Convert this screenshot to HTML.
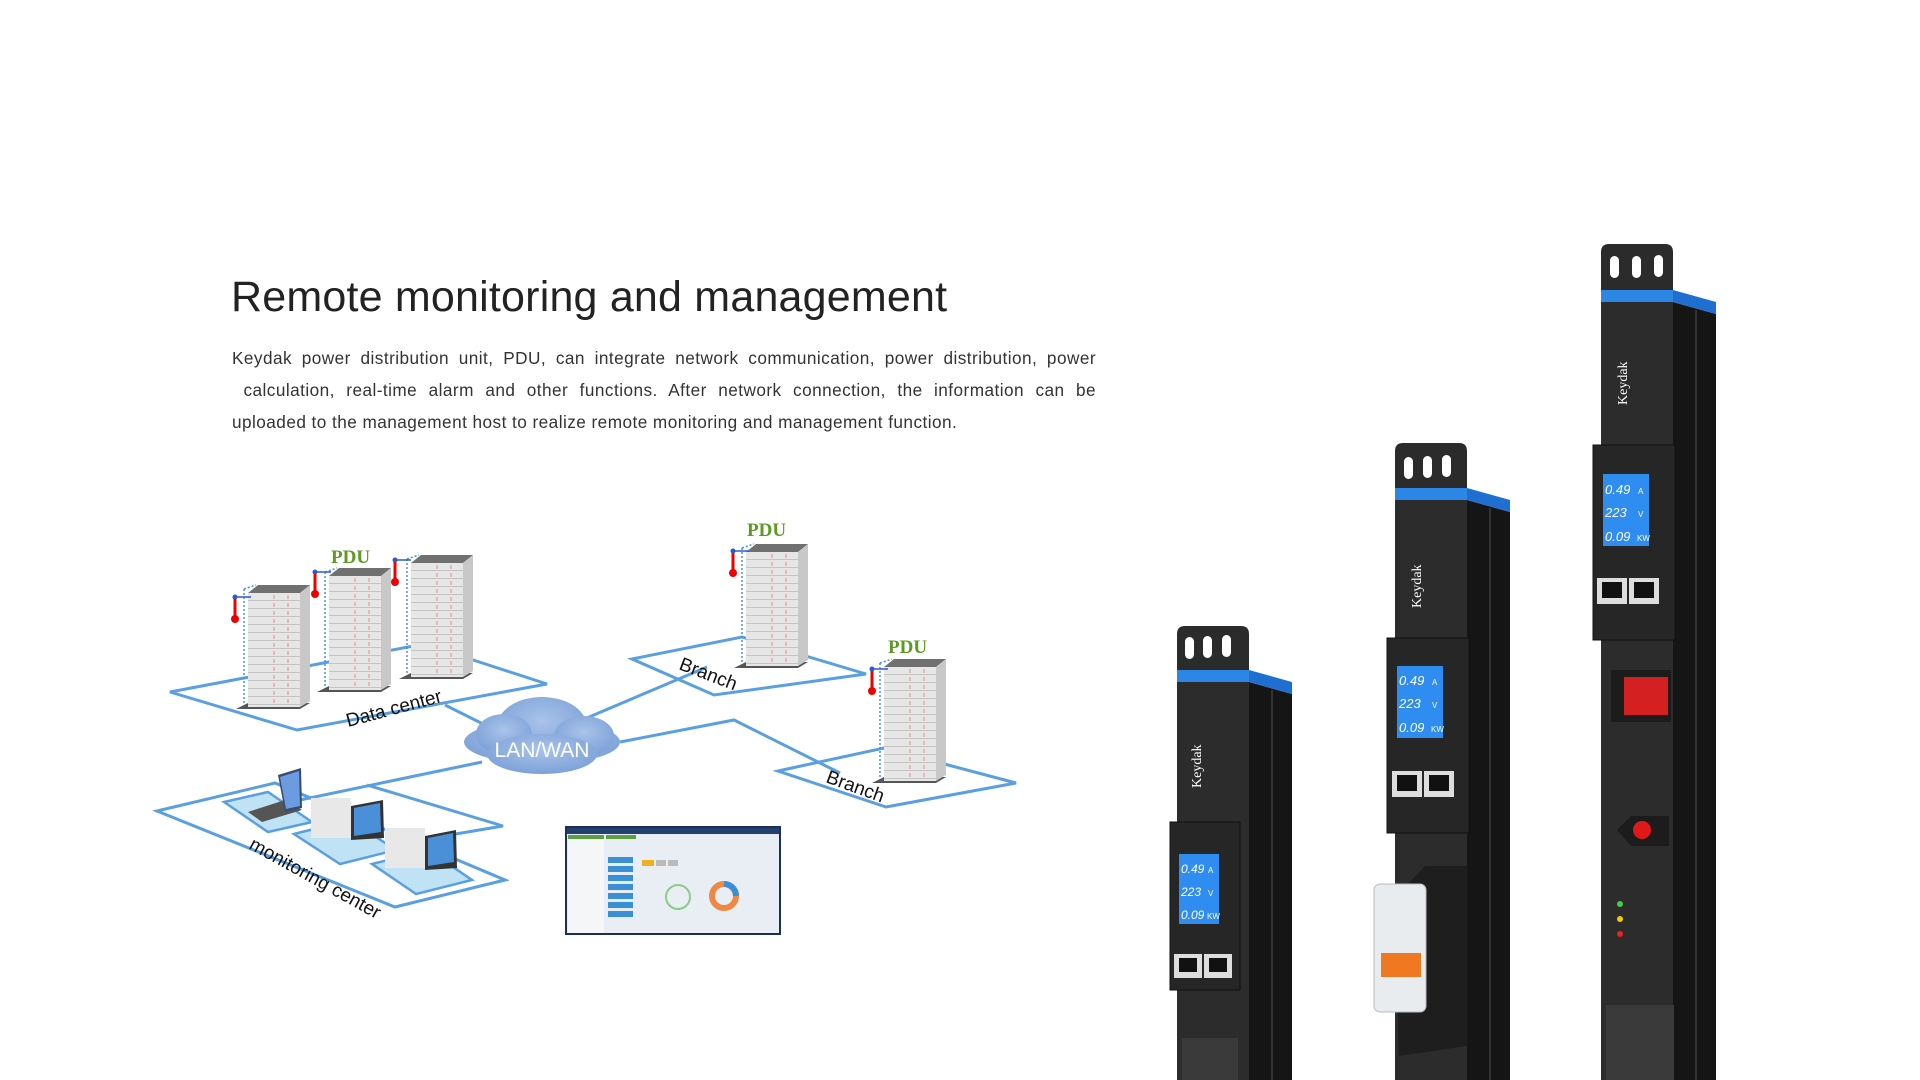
<!DOCTYPE html>
<html><head><meta charset="utf-8"><style>
html,body{margin:0;padding:0;background:#fff;width:1920px;height:1080px;overflow:hidden;font-family:"Liberation Sans",sans-serif}
.t{position:absolute;left:231px;top:273px;font-size:43px;color:#222;letter-spacing:0.2px;white-space:nowrap}
.p{position:absolute;left:232px;top:342px;width:864px;font-size:17.2px;letter-spacing:0.45px;line-height:32px;color:#333}
.p div{text-align:justify;text-align-last:justify;white-space:nowrap;overflow:visible}
.p div.l{text-align-last:left}
svg{position:absolute;left:0;top:0}
</style></head><body>
<div class="t">Remote monitoring and management</div>
<div class="p"><div style="white-space:normal">Keydak power distribution unit, PDU, can integrate network communication, power distribution, power</div><div style="white-space:normal">&nbsp;calculation, real-time alarm and other functions. After network connection, the information can be</div><div class="l">uploaded to the management host to realize remote monitoring and management function.</div></div>
<svg width="1920" height="1080" viewBox="0 0 1920 1080">
<defs>
<pattern id="rk" width="52" height="8" patternUnits="userSpaceOnUse"><rect width="52" height="8" fill="#e6e6e6"/><line x1="0" y1="7.5" x2="52" y2="7.5" stroke="#c4c4c4"/><line x1="26" y1="2" x2="26" y2="6" stroke="#e88"/><line x1="40" y1="2" x2="40" y2="6" stroke="#e88"/></pattern>
<g id="rack">
<polygon points="-12,124 52,124 62,118 0,118" fill="#555"/>
<polygon points="0,8 10,0 62,0 52,8" fill="#707070"/>
<rect x="0" y="8" width="52" height="114" fill="url(#rk)"/>
<polygon points="52,8 62,0 62,116 52,122" fill="#c8c8c8"/>
<line x1="-4" y1="4" x2="-4" y2="118" stroke="#4a90e2" stroke-width="1.5" stroke-dasharray="2,2"/>
<line x1="-4" y1="4" x2="8" y2="0" stroke="#4a90e2" stroke-width="1.5" stroke-dasharray="2,2"/>
</g>
<g id="th"><line x1="0" y1="0" x2="16" y2="0" stroke="#2a5ad0" stroke-width="1.5"/><circle cx="0" cy="0" r="2.5" fill="#2a5ad0"/><line x1="0" y1="2" x2="0" y2="20" stroke="#e00" stroke-width="3"/><circle cx="0" cy="22" r="4" fill="#e00"/></g>
<radialGradient id="cl" cx="50%" cy="40%" r="60%"><stop offset="0" stop-color="#a9c3ea"/><stop offset="1" stop-color="#7da1d8"/></radialGradient>
</defs>
<g fill="none" stroke="#5aa0e0" stroke-width="3">
<polygon points="170,692 424,644 547,684 297,730"/>
<polygon points="632,659 742,637 866,674 714,695"/>
<polygon points="778,771 884,748 1016,783 886,807"/>
<polygon points="157,811 275,783 505,880 395,907"/>
<polyline points="367,785 503,826 420,840"/>
<line x1="445" y1="705" x2="495" y2="730"/>
<line x1="575" y1="723" x2="707" y2="667"/>
<polyline points="620,742 734,720 840,773"/>
<line x1="482" y1="762" x2="300" y2="800"/>
</g>
<g fill="#bfe3f5" stroke="#5aa0e0" stroke-width="2.5">
<polygon points="224,802 268,792 312,822 268,832"/>
<polygon points="294,834 350,820 396,850 340,864"/>
<polygon points="372,864 428,850 472,880 416,894"/>
</g>
<g>
<polygon points="248,812 285,800 302,810 262,822" fill="#555"/>
<polygon points="278,775 301,768 302,808 285,812" fill="#3a4a70"/><polygon points="280,777 299,771 300,806 286,809" fill="#6b9be0"/>
<rect x="311" y="798" width="40" height="40" fill="#e8e8e8"/><polygon points="351,806 383,800 384,838 351,840" fill="#333"/><polygon points="354,808 380,803 381,832 354,836" fill="#4a90d8"/>
<rect x="385" y="828" width="40" height="40" fill="#e8e8e8"/><polygon points="425,836 456,830 457,868 425,870" fill="#333"/><polygon points="428,838 453,833 454,862 428,866" fill="#4a90d8"/>
</g>
<use href="#rack" x="248" y="585"/>
<use href="#rack" x="329" y="568"/>
<use href="#rack" x="411" y="555"/>
<use href="#rack" x="746" y="544"/>
<use href="#rack" x="884" y="659"/>
<use href="#th" x="235" y="597"/>
<use href="#th" x="315" y="572"/>
<use href="#th" x="395" y="560"/>
<use href="#th" x="733" y="551"/>
<use href="#th" x="872" y="669"/>
<g font-family="Liberation Serif,serif" font-weight="bold" font-size="19" fill="#5d9a22">
<text x="331" y="563">PDU</text><text x="747" y="536">PDU</text><text x="888" y="653">PDU</text>
</g>
<g font-size="19" fill="#111">
<text transform="translate(348,727) rotate(-15)">Data center</text>
<text transform="translate(678,669) rotate(21)">Branch</text>
<text transform="translate(825,782) rotate(20)">Branch</text>
<text transform="translate(248,848) rotate(29)">monitoring center</text>
</g>
<g fill="url(#cl)" transform="translate(-6,-8)">
<ellipse cx="548" cy="750" rx="78" ry="22"/><ellipse cx="548" cy="735" rx="45" ry="30"/><ellipse cx="510" cy="742" rx="28" ry="20"/><ellipse cx="590" cy="744" rx="30" ry="20"/><ellipse cx="548" cy="762" rx="55" ry="20"/>
</g>
<text x="542" y="757" text-anchor="middle" font-size="21" fill="#fff">LAN/WAN</text>
<g transform="translate(-6,-8)">
<rect x="572" y="835" width="214" height="107" fill="#e9eef4" stroke="#1c2d5e" stroke-width="2"/>
<rect x="573" y="836" width="212" height="6" fill="#23406e"/>
<rect x="574" y="843" width="36" height="98" fill="#f4f6f8"/>
<rect x="574" y="843" width="36" height="4" fill="#5aa040"/><rect x="612" y="843" width="30" height="4" fill="#5aa040"/>
<g fill="#3a8fd6"><rect x="614" y="865" width="25" height="6"/><rect x="614" y="874" width="25" height="6"/><rect x="614" y="883" width="25" height="6"/><rect x="614" y="892" width="25" height="6"/><rect x="614" y="901" width="25" height="6"/><rect x="614" y="910" width="25" height="6"/><rect x="614" y="919" width="25" height="6"/></g>
<rect x="648" y="868" width="12" height="6" fill="#f0b020"/><rect x="662" y="868" width="10" height="6" fill="#bbb"/><rect x="674" y="868" width="10" height="6" fill="#bbb"/>
<circle cx="684" cy="905" r="12" fill="none" stroke="#8c8" stroke-width="2"/>
<circle cx="730" cy="904" r="12" fill="none" stroke="#e84" stroke-width="6"/><path d="M730 892 a12 12 0 0 1 12 12" fill="none" stroke="#3a8fd6" stroke-width="6"/>
</g>
<g transform="translate(-14,-2)">
<path d="M1191 680 V636 q0-8 8-8 h56 q8 0 8 8 V680Z" fill="#2b2b2b"/>
<rect x="1199" y="639" width="9" height="22" rx="4.5" fill="#fff"/><rect x="1217" y="638" width="9" height="22" rx="4.5" fill="#fff"/><rect x="1236" y="637" width="9" height="22" rx="4.5" fill="#fff"/>
<rect x="1191" y="684" width="72" height="400" fill="#2c2c2c"/>
<polygon points="1263,684 1306,696 1306,1082 1263,1082" fill="#151515"/>
<line x1="1286" y1="692" x2="1286" y2="1082" stroke="#333" stroke-width="2"/>
<rect x="1191" y="672" width="72" height="12" fill="#2c86e6"/><polygon points="1263,672 1306,684 1306,696 1263,684" fill="#1e6fd0"/>
<text transform="translate(1215,790) rotate(-90)" font-size="14" fill="#fff" font-family="Liberation Serif,serif">Keydak</text>
<rect x="1184" y="824" width="70" height="168" fill="#262626" stroke="#111"/>
<rect x="1193" y="856" width="40" height="70" fill="#2f8cf0"/>
<g font-size="12" fill="#fff" font-style="italic"><text x="1195" y="875">0.49</text><text x="1195" y="898">223</text><text x="1195" y="921">0.09</text></g>
<g font-size="8" fill="#fff"><text x="1222" y="875">A</text><text x="1222" y="898">V</text><text x="1221" y="921">KW</text></g>
<rect x="1188" y="956" width="28" height="24" fill="#ddd"/><rect x="1218" y="956" width="28" height="24" fill="#ddd"/><rect x="1193" y="960" width="18" height="14" fill="#111"/><rect x="1223" y="960" width="18" height="14" fill="#111"/>
<rect x="1196" y="1040" width="56" height="44" fill="#3a3a3a"/>
</g>
<g transform="translate(-15,-2)">
<path d="M1410 497 V453 q0-8 8-8 h56 q8 0 8 8 V497Z" fill="#2b2b2b"/>
<rect x="1419" y="459" width="9" height="22" rx="4.5" fill="#fff"/><rect x="1438" y="458" width="9" height="22" rx="4.5" fill="#fff"/><rect x="1457" y="457" width="9" height="22" rx="4.5" fill="#fff"/>
<rect x="1410" y="502" width="72" height="580" fill="#2c2c2c"/>
<polygon points="1482,502 1525,514 1525,1082 1482,1082" fill="#151515"/>
<line x1="1505" y1="510" x2="1505" y2="1082" stroke="#333" stroke-width="2"/>
<rect x="1410" y="490" width="72" height="12" fill="#2c86e6"/><polygon points="1482,490 1525,502 1525,514 1482,502" fill="#1e6fd0"/>
<text transform="translate(1436,610) rotate(-90)" font-size="14" fill="#fff" font-family="Liberation Serif,serif">Keydak</text>
<rect x="1402" y="640" width="82" height="195" fill="#262626" stroke="#111"/>
<rect x="1412" y="668" width="46" height="72" fill="#2f8cf0"/>
<g font-size="13" fill="#fff" font-style="italic"><text x="1414" y="687">0.49</text><text x="1414" y="710">223</text><text x="1414" y="734">0.09</text></g>
<g font-size="8" fill="#fff"><text x="1447" y="687">A</text><text x="1447" y="710">V</text><text x="1446" y="734">KW</text></g>
<rect x="1407" y="773" width="30" height="26" fill="#ddd"/><rect x="1439" y="773" width="30" height="26" fill="#ddd"/><rect x="1412" y="777" width="20" height="16" fill="#111"/><rect x="1444" y="777" width="20" height="16" fill="#111"/>
<polygon points="1410,900 1440,868 1482,868 1482,1048 1414,1058" fill="#1e1e1e"/>
<rect x="1389" y="886" width="52" height="128" rx="6" fill="#e8ecee" stroke="#bbb"/>
<rect x="1396" y="955" width="40" height="24" fill="#f07820"/>
</g>
<g transform="translate(-16,0)">
<path d="M1617 297 V252 q0-8 8-8 h56 q8 0 8 8 V297Z" fill="#2b2b2b"/>
<rect x="1626" y="256" width="9" height="22" rx="4.5" fill="#fff"/><rect x="1648" y="256" width="9" height="22" rx="4.5" fill="#fff"/><rect x="1670" y="255" width="9" height="22" rx="4.5" fill="#fff"/>
<rect x="1617" y="302" width="72" height="780" fill="#2c2c2c"/>
<polygon points="1689,302 1732,314 1732,1080 1689,1080" fill="#151515"/>
<line x1="1712" y1="310" x2="1712" y2="1080" stroke="#333" stroke-width="2"/>
<rect x="1617" y="290" width="72" height="12" fill="#2c86e6"/><polygon points="1689,290 1732,302 1732,314 1689,302" fill="#1e6fd0"/>
<text transform="translate(1643,405) rotate(-90)" font-size="14" fill="#fff" font-family="Liberation Serif,serif">Keydak</text>
<rect x="1609" y="445" width="82" height="195" fill="#262626" stroke="#111"/>
<rect x="1619" y="474" width="46" height="72" fill="#2f8cf0"/>
<g font-size="13" fill="#fff" font-style="italic"><text x="1621" y="494">0.49</text><text x="1621" y="517">223</text><text x="1621" y="541">0.09</text></g>
<g font-size="8" fill="#fff"><text x="1654" y="494">A</text><text x="1654" y="517">V</text><text x="1653" y="541">KW</text></g>
<rect x="1613" y="578" width="30" height="26" fill="#ddd"/><rect x="1645" y="578" width="30" height="26" fill="#ddd"/><rect x="1618" y="582" width="20" height="16" fill="#111"/><rect x="1650" y="582" width="20" height="16" fill="#111"/>
<rect x="1627" y="670" width="60" height="52" fill="#1c1c1c"/><rect x="1640" y="677" width="44" height="38" fill="#d42020"/>
<path d="M1633 830 l14-14 h38 v30 h-38z" fill="#1c1c1c"/><circle cx="1658" cy="830" r="9" fill="#e01818"/>
<circle cx="1636" cy="904" r="3" fill="#4c4"/><circle cx="1636" cy="919" r="3" fill="#ec0"/><circle cx="1636" cy="934" r="3" fill="#e22"/>
<rect x="1622" y="1005" width="68" height="75" fill="#3a3a3a"/>
</g>
</svg>
</body></html>
